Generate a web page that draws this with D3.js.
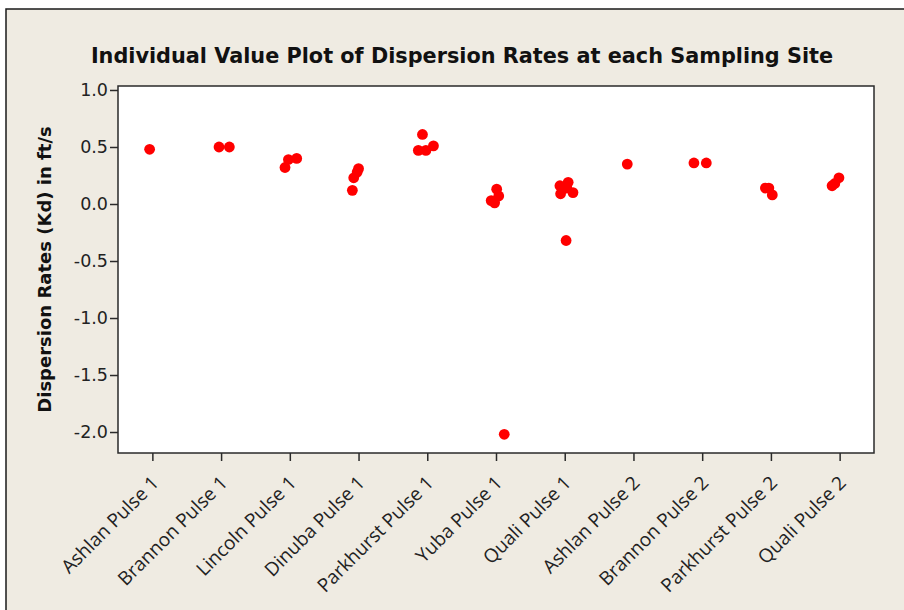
<!DOCTYPE html>
<html>
<head>
<meta charset="utf-8">
<script src="https://cdn.jsdelivr.net/npm/d3@7"></script>
<style>
  html, body { margin: 0; padding: 0; background: #ffffff; }
  svg { display: block; }
</style>
</head>
<body>
<svg id="chart" width="904" height="610"></svg>
<script>
// Sampling sites, in plotting order
const sites = [
  "Ashlan Pulse 1", "Brannon Pulse 1", "Lincoln Pulse 1", "Dinuba Pulse 1",
  "Parkhurst Pulse 1", "Yuba Pulse 1", "Quali Pulse 1", "Ashlan Pulse 2",
  "Brannon Pulse 2", "Parkhurst Pulse 2", "Quali Pulse 2"
];

// Dispersion rate observations (Kd, ft/s) per site
const kdValues = [
  [0.48],
  [0.50, 0.50],
  [0.32, 0.39, 0.40],
  [0.12, 0.23, 0.28, 0.31],
  [0.61, 0.47, 0.47, 0.51],
  [0.13, 0.07, 0.03, 0.01, -2.02],
  [0.16, 0.09, 0.19, 0.10, 0.14, -0.32],
  [0.35],
  [0.36, 0.36],
  [0.14, 0.14, 0.08],
  [0.16, 0.18, 0.23]
];

// Horizontal jitter applied to each observation (in category units)
const jitter = [
  [-0.04],
  [-0.03, 0.12],
  [-0.07, -0.02, 0.10],
  [-0.09, -0.07, -0.02, 0.00],
  [-0.07, -0.13, -0.02, 0.09],
  [0.01, 0.04, -0.07, -0.02, 0.12],
  [-0.07, -0.06, 0.05, 0.12, 0.03, 0.02],
  [-0.09],
  [-0.12, 0.06],
  [-0.08, -0.03, 0.02],
  [-0.11, -0.07, -0.01]
];

const yTicks = [1.0, 0.5, 0.0, -0.5, -1.0, -1.5, -2.0];

const title = "Individual Value Plot of Dispersion Rates at each Sampling Site";
const yTitle = "Dispersion Rates (Kd) in ft/s";

const W = 904, H = 610;
const box = { left: 118, top: 86, right: 874, bottom: 453 };

const svg = d3.select("#chart");

// Graph window background and frame
svg.append("rect")
  .attr("x", 6).attr("y", 9).attr("width", W + 10).attr("height", H + 10)
  .attr("fill", "#efebe2").attr("stroke", "#1a1a1a").attr("stroke-width", 1.5);

const x = d3.scaleLinear().domain([-0.5, sites.length - 0.5]).range([box.left, box.right]);
const y = d3.scaleLinear().domain([-2.184, 1.035]).range([box.bottom, box.top]);

// Plot area
svg.append("rect")
  .attr("x", box.left).attr("y", box.top)
  .attr("width", box.right - box.left).attr("height", box.bottom - box.top)
  .attr("fill", "#ffffff").attr("stroke", "#2a2a2a").attr("stroke-width", 1.5);

// Y axis (plain hyphen for negatives)
const fmt = d3.format(".1f");
const yAxis = d3.axisLeft(y).tickValues(yTicks).tickSize(8).tickPadding(2)
  .tickFormat(d => fmt(d).replace("\u2212", "-"));
const gy = svg.append("g").attr("transform", `translate(${box.left},0)`).call(yAxis);
gy.select(".domain").remove();
gy.selectAll(".tick line").attr("stroke", "#2a2a2a").attr("stroke-width", 1.5);
gy.selectAll(".tick text")
  .attr("font-family", "'DejaVu Sans', Verdana, sans-serif")
  .attr("font-size", 17.5).attr("fill", "#222");

// X axis
const xAxis = d3.axisBottom(x).tickValues(d3.range(sites.length)).tickSize(8)
  .tickFormat(i => sites[i]);
const gx = svg.append("g").attr("transform", `translate(0,${box.bottom})`).call(xAxis);
gx.select(".domain").remove();
gx.selectAll(".tick line").attr("stroke", "#2a2a2a").attr("stroke-width", 1.5);
gx.selectAll(".tick text")
  .attr("font-family", "'Open Sans', sans-serif")
  .attr("font-size", 19).attr("fill", "#222")
  .attr("text-anchor", "end")
  .attr("dy", null)
  .attr("y", 0)
  .attr("transform", "translate(7,31) rotate(-45)");

// Observations
const obs = sites.flatMap((s, i) => kdValues[i].map((v, j) => ({ i, v, jit: jitter[i][j] })));
svg.append("g").selectAll("circle").data(obs).join("circle")
  .attr("cx", d => x(d.i + d.jit))
  .attr("cy", d => y(d.v))
  .attr("r", 5.4)
  .attr("fill", "#ff0000");

// Title
svg.append("text")
  .attr("x", 462).attr("y", 63)
  .attr("text-anchor", "middle")
  .attr("font-family", "'DejaVu Sans', Verdana, sans-serif")
  .attr("font-weight", "bold").attr("font-size", 20.8).attr("fill", "#111")
  .text(title);

// Y axis title
svg.append("text")
  .attr("transform", `translate(51,${(box.top + box.bottom) / 2}) rotate(-90)`)
  .attr("text-anchor", "middle")
  .attr("font-family", "'DejaVu Sans', Verdana, sans-serif")
  .attr("font-weight", "bold").attr("font-size", 18).attr("fill", "#111")
  .text(yTitle);
</script>
</body>
</html>
